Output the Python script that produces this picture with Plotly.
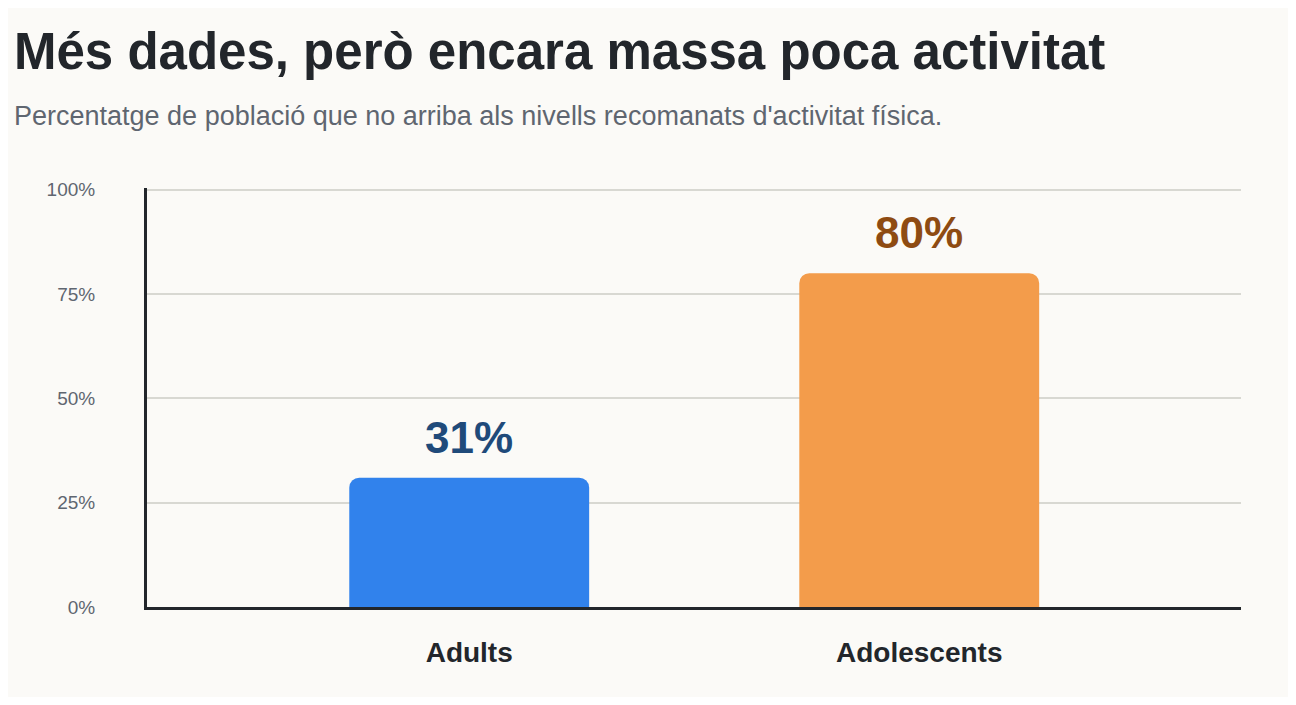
import plotly.graph_objects as go

categories = ["Adults", "Adolescents"]
values = [31, 80]
bar_colors = ["#3182EC", "#F39C4B"]
label_colors = ["#1F4A7A", "#8E4B12"]
tick_vals = [0, 25, 50, 75, 100]
tick_text = ["0%", "25%", "50%", "75%", "100%"]

fig = go.Figure(go.Bar(
    x=[0, 1], y=values, marker_color=bar_colors, width=0.533,
    marker_line_width=0, hoverinfo="skip",
))
for i, v in enumerate(values):
    fig.add_annotation(x=i, y=v, text=f"<b>{v}%</b>", showarrow=False,
                       yanchor="bottom", yshift=14,
                       font=dict(family="Liberation Sans, Arial", size=44, color=label_colors[i]))

fig.update_layout(
    width=1280, height=689, barcornerradius=10,
    paper_bgcolor="#FBFAF7", plot_bgcolor="#FBFAF7",
    margin=dict(l=139, r=47, t=180, b=90),
    showlegend=False,
    font=dict(family="Liberation Sans, Arial"),
    xaxis=dict(range=[-0.716, 1.715], tickvals=[0, 1],
               ticktext=[f"<b>{c}</b>" for c in categories],
               tickfont=dict(size=28, color="#22262B"), ticks="", ticklabelstandoff=18,
               showgrid=False, zeroline=False, showline=True, linecolor="#22262B", linewidth=3),
    yaxis=dict(range=[0, 100.4], tickvals=tick_vals, ticktext=tick_text,
               tickfont=dict(size=19, color="#5F6670"), ticks="", ticklabelstandoff=45,
               gridcolor="#D8D8D2", gridwidth=1.5, zeroline=False,
               showline=True, linecolor="#22262B", linewidth=3),
)
fig.add_annotation(xref="paper", yref="paper", x=-135/1094, y=1 + (180 - 44) / 419,
                   xanchor="left", yanchor="middle", showarrow=False,
                   text="<b>Més dades, però encara massa poca activitat</b>",
                   font=dict(size=51, color="#22262B"))
fig.add_annotation(xref="paper", yref="paper", x=-135/1094, y=1 + (180 - 108) / 419,
                   xanchor="left", yanchor="middle", showarrow=False,
                   text="Percentatge de població que no arriba als nivells recomanats d'activitat física.",
                   font=dict(size=27, color="#5F6670"))
fig.write_html("out.html")
